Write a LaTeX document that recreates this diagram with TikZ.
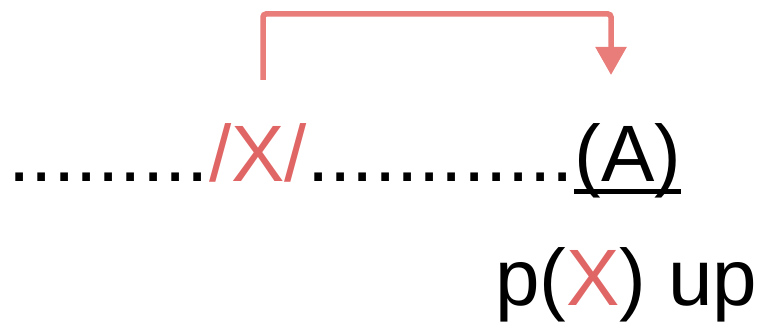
\documentclass[tikz,border=0pt]{standalone}
\usepackage{fontspec}
\setmainfont{Liberation Sans}
\usetikzlibrary{arrows.meta}
\definecolor{txtred}{HTML}{E06666}
\definecolor{arrred}{HTML}{E87D7A}
\begin{document}
\begin{tikzpicture}[x=1pt,y=1pt,
  big/.style={font=\fontsize{80}{90}\selectfont, inner sep=0pt, anchor=base west},
  link/.style={draw=arrred, line width=5.5pt, rounded corners=3pt,
    -{Triangle[width=30pt,length=28pt]}}]
\useasboundingbox (0,0) rectangle (758,323);
\node[big] (d1) at (8.5,141) {.........};
\node[big, text=txtred] (sx) at (d1.base east) {/X/};
\node[big] (d2) at (sx.base east) {............};
\node[big] (A) at (d2.base east) {(A)};
\draw[line width=4.5pt] ([yshift=-9.5pt]A.base west) -- ([yshift=-9.5pt]A.base east);
\node[big] (p) at (495,17) {p(\textcolor{txtred}{X}) up};
\coordinate (s) at (263,243);
\coordinate (t) at (611,248);
\draw[link] (s) -- (263,309) -- (611,309) -- (t);
\end{tikzpicture}
\end{document}
